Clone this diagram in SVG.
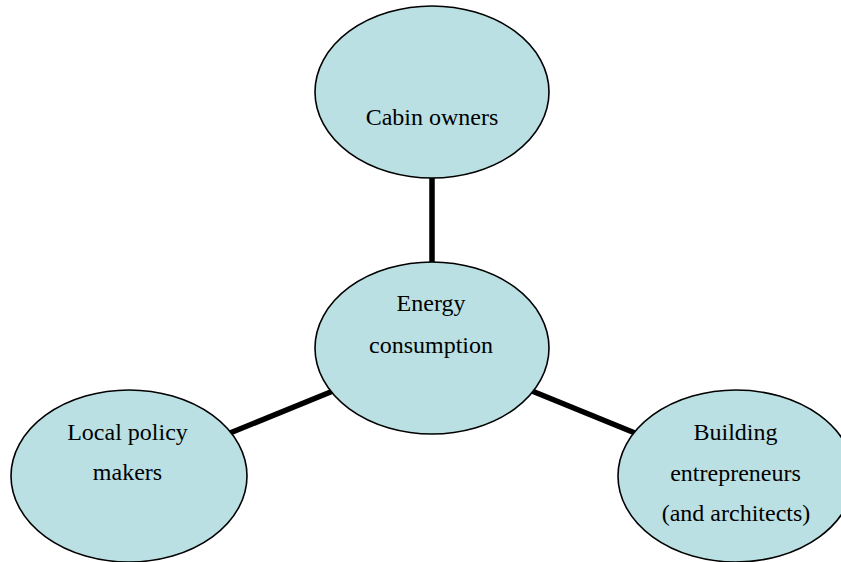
<svg xmlns="http://www.w3.org/2000/svg" width="841" height="562" viewBox="0 0 841 562">
<style>
.n{fill:#bae0e4;stroke:#000;stroke-width:1.6}
.t{font-family:"Liberation Serif","Times New Roman",serif;font-size:24px;fill:#000;text-anchor:middle}
.c{stroke:#000;stroke-width:5.5;fill:none}
</style>
<rect width="841" height="562" fill="#fff"/>
<g id="connectors">
<line class="c" x1="432" y1="176" x2="432" y2="265"/>
<line class="c" x1="230" y1="433" x2="333" y2="391"/>
<line class="c" x1="532" y1="391" x2="635" y2="433"/>
</g>
<g id="cabin">
<ellipse class="n" cx="432" cy="92" rx="117" ry="86"/>
<text class="t" x="432" y="125">Cabin owners</text>
</g>
<g id="energy">
<ellipse class="n" cx="432" cy="348" rx="117" ry="86"/>
<text class="t" x="431" y="311">Energy</text>
<text class="t" x="431" y="353">consumption</text>
</g>
<g id="local">
<ellipse class="n" cx="129" cy="476" rx="118" ry="86"/>
<text class="t" x="127.5" y="440">Local policy</text>
<text class="t" x="127.5" y="480">makers</text>
</g>
<g id="building">
<ellipse class="n" cx="736" cy="476" rx="118" ry="86"/>
<text class="t" x="735.5" y="440">Building</text>
<text class="t" x="735.5" y="481">entrepreneurs</text>
<text class="t" x="736" y="521">(and architects)</text>
</g>
</svg>
